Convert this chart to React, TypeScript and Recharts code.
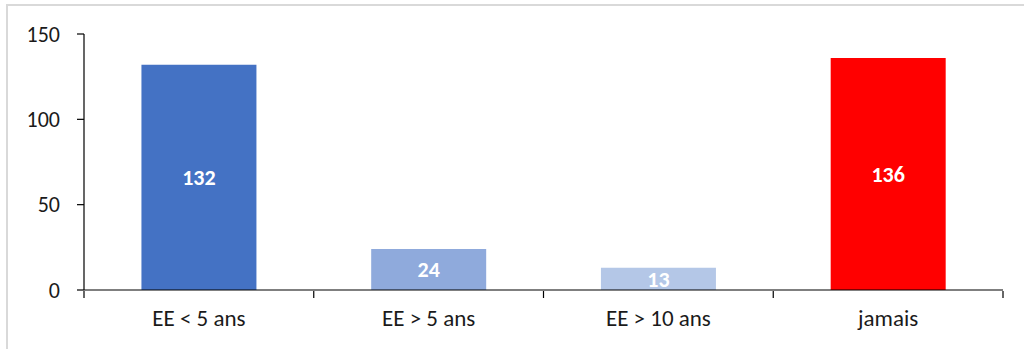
import { Bar, BarChart, Cell, LabelList, XAxis, YAxis } from "recharts";

const categories = ["EE < 5 ans", "EE > 5 ans", "EE > 10 ans", "jamais"];
const effectifs = [132, 24, 13, 136];
const yTicks = [0, 50, 100, 150];

const couleurs = ["#4472C4", "#8FAADC", "#B4C7E7", "#FF0000"];

const donnees = categories.map((categorie, i) => ({ categorie, valeur: effectifs[i] }));

const LARGEUR = 1024;
const HAUTEUR = 349;
const POLICE = "Carlito, Calibri, Lato, sans-serif";

// tick marks sit between categories, labels stay centred under the bars
function TickCategorie(props: any) {
  const { x, y, payload, index, width } = props;
  const bande = width / categories.length;
  const gauche = x - bande / 2;
  return (
    <g>
      <line x1={gauche} y1={y - 8} x2={gauche} y2={y - 1} stroke="#000" strokeWidth={1.2} />
      {index === categories.length - 1 ? (
        <line x1={x + bande / 2} y1={y - 8} x2={x + bande / 2} y2={y - 1} stroke="#000" strokeWidth={1.2} />
      ) : null}
      <text x={x} y={y + 27} textAnchor="middle" fill="#1a1a1a" fontSize={23} fontFamily={POLICE}>
        {payload.value}
      </text>
    </g>
  );
}

export default function App() {
  return (
    <div
      style={{
        position: "absolute",
        left: 0,
        top: 0,
        width: LARGEUR,
        height: HAUTEUR,
        overflow: "hidden",
        background: "#fff",
      }}
    >
      <div
        style={{
          position: "absolute",
          left: 6,
          top: 4,
          width: LARGEUR + 40,
          height: HAUTEUR + 40,
          borderTop: "2px solid #d9d9d9",
          borderLeft: "2px solid #d9d9d9",
        }}
      />
      <div style={{ position: "absolute", left: 0, top: 0 }}>
        <BarChart
          width={LARGEUR}
          height={HAUTEUR}
          data={donnees}
          margin={{ top: 34, right: 21, left: 0, bottom: 0 }}
          barCategoryGap="25%"
        >
          <YAxis
            width={84}
            domain={[0, 150]}
            ticks={yTicks}
            interval={0}
            tickSize={7}
            tickMargin={17}
            axisLine={{ stroke: "#000", strokeWidth: 1.2 }}
            tickLine={{ stroke: "#000", strokeWidth: 1.2 }}
            tick={{ fill: "#1a1a1a", fontSize: 22, fontFamily: POLICE }}
          />
          <XAxis
            dataKey="categorie"
            height={59}
            interval={0}
            tickLine={false}
            tickSize={7}
            axisLine={{ stroke: "#000", strokeWidth: 1.2 }}
            tick={<TickCategorie />}
          />
          <Bar dataKey="valeur" isAnimationActive={false}>
            {donnees.map((d, i) => (
              <Cell key={d.categorie} fill={couleurs[i]} />
            ))}
            <LabelList
              dataKey="valeur"
              position="center"
              fill="#fff"
              fontSize={22}
              fontWeight="bold"
              fontFamily={POLICE}
            />
          </Bar>
        </BarChart>
      </div>
    </div>
  );
}
